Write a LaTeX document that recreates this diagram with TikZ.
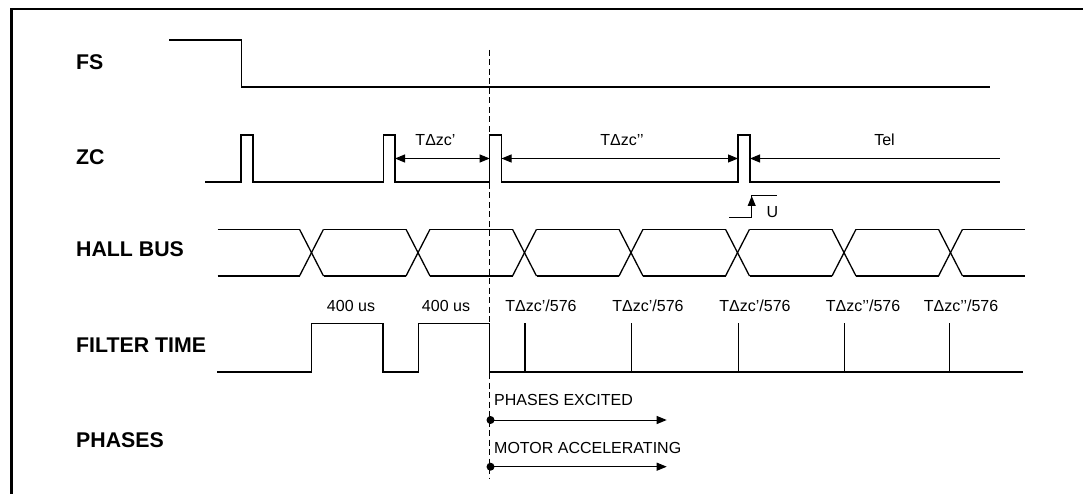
\documentclass[tikz,border=0pt]{standalone}
\usepackage{fontspec}
\setmainfont{Liberation Sans}
\usetikzlibrary{arrows.meta}
\begin{document}
\begin{tikzpicture}[x=1pt, y=-1pt, >={Triangle[length=10pt,width=8pt]},
  wave/.style={line width=1.3pt},
  signame/.style={anchor=west, inner sep=0pt, font=\fontsize{21.3}{25}\selectfont\bfseries},
  tlabel/.style={inner sep=0pt, font=\fontsize{16}{19}\selectfont},
  marker/.style={dash pattern=on 6pt off 3.5pt, line width=1pt}]
\useasboundingbox (0,0) rectangle (1083,494);
\draw[line width=2.2pt] (11.4,500) -- (11.4,9.3) -- (1090,9.3);
% signal names
\node[signame] (fs) at (76,62) {FS};
\node[signame] (zc) at (76,157) {ZC};
\node[signame] (hall) at (76,249) {HALL BUS};
\node[signame] (filt) at (76,345) {FILTER TIME};
\node[signame] (ph) at (76,440) {PHASES};
% FS
\draw[wave] (169.4,40) -- (241.7,40) -- (241.7,87) -- (990,87);
% ZC
\draw[wave] (205,182) -| (241,135) -| (253,182) -| (383.3,135) -| (395,182)
  -| (489.7,135) -| (501.5,182) -| (738,135) -| (750,182) -- (999.5,182);
\coordinate (zcA) at (395,158.5);
\coordinate (zcB) at (489.7,158.5);
\coordinate (zcC) at (501.5,158.5);
\coordinate (zcD) at (738,158.5);
\coordinate (zcE) at (750,158.5);
\coordinate (zcF) at (999.5,158.5);
\draw[<->, line width=1pt] (zcA) -- (zcB);
\draw[<->, line width=1pt] (zcC) -- (zcD);
\draw[<-, line width=1pt] (zcE) -- (zcF);
\node[tlabel] (dzc1) at (435.5,140) {TΔzc’};
\node[tlabel] (dzc2) at (622,140) {TΔzc’’};
\node[tlabel] (tel) at (884.5,140) {Tel};
% U
\coordinate (uL) at (729,217.5);
\coordinate (uB) at (751.7,217.5);
\coordinate (uT) at (751.7,196);
\coordinate (uR) at (777,196);
\draw[line width=1pt] (uL) -- (uB) -- (uT) -- (uR);
\draw[->, line width=1pt] (uB) -- (uT);
\node[tlabel] (u) at (772.5,212) {U};
% HALL BUS
\foreach \c in {311.5,418,524.5,631,737.5,844,950.5} {
  \draw[wave] (\c-12,229.3) -- (\c+12,276);
  \draw[wave] (\c-12,276) -- (\c+12,229.3);
}
\foreach \a/\b in {205.5/311.5, 311.5/418, 418/524.5, 524.5/631, 631/737.5,
                   737.5/844, 844/950.5, 950.5/1036.8}
  \draw[wave] (\a+12,229.3) -- (\b-12,229.3) (\a+12,276) -- (\b-12,276);
% FILTER TIME
\draw[wave] (217,372) -| (311.6,323.3) -| (383,372) -| (418.4,323.3)
  -| (489.7,372) -- (1023,372);
\foreach \x in {525.1,631.8,738.4,844.7,949.3}
  \draw[wave] (\x,323.3) -- (\x,372);
\node[tlabel] (f1) at (351,305.5) {400 us};
\node[tlabel] (f2) at (446,305.5) {400 us};
\node[tlabel] (t1) at (541,305.5) {TΔzc’/576};
\node[tlabel] (t2) at (648,305.5) {TΔzc’/576};
\node[tlabel] (t3) at (755,305.5) {TΔzc’/576};
\node[tlabel] (t4) at (863,305.5) {TΔzc’’/576};
\node[tlabel] (t5) at (961,305.5) {TΔzc’’/576};
% start marker and phases
\draw[marker] (489.7,50) -- (489.7,478);
\coordinate (ex0) at (490.5,420);
\coordinate (ex1) at (666.7,420);
\coordinate (ac0) at (490.5,466.7);
\coordinate (ac1) at (666.7,466.7);
\fill (ex0) circle[radius=4pt];
\fill (ac0) circle[radius=4pt];
\draw[->, line width=1pt] (ex0) -- (ex1);
\draw[->, line width=1pt] (ac0) -- (ac1);
\node[tlabel, anchor=west] (exc) at (494,400) {PHASES EXCITED};
\node[tlabel, anchor=west] (acc) at (494,448.3) {MOTOR ACCELERATING};
\end{tikzpicture}
\end{document}
